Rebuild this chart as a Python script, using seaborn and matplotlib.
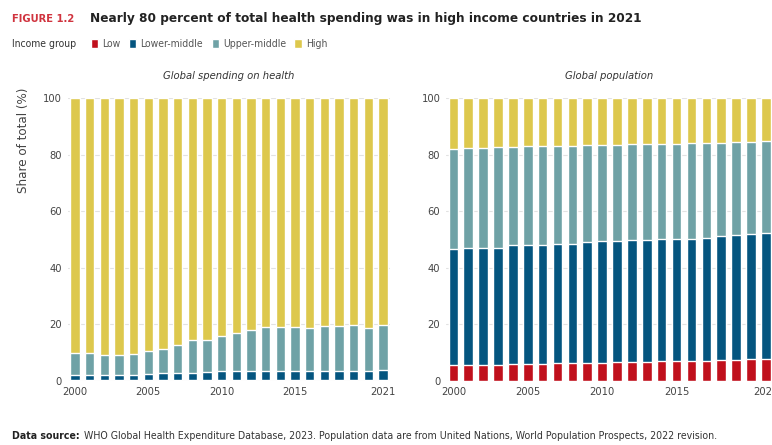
"""
Share of health spending and population by income group, 2000-2021
"""

import numpy as np
import pandas as pd
import matplotlib
matplotlib.use("Agg")
import matplotlib.pyplot as plt
import seaborn as sns
from matplotlib.patches import Patch
from matplotlib import font_manager

years = list(range(2000, 2022))
groups = ['Low', 'Lower-middle', 'Upper-middle', 'High']
colors = ['#C0101C', '#04557F', '#6FA2A6', '#DDC84D']

# Global spending on health, share of total (%)
spend_low = [0.3, 0.3, 0.3, 0.3, 0.3, 0.4, 0.4, 0.4, 0.4, 0.4, 0.5,
             0.5, 0.5, 0.5, 0.5, 0.5, 0.5, 0.5, 0.5, 0.5, 0.5, 0.5]
spend_lower_mid = [1.7, 1.7, 1.7, 1.7, 1.7, 2.2, 2.3, 2.4, 2.6, 2.7, 3.0,
                   3.1, 3.2, 3.2, 3.2, 3.2, 3.2, 3.2, 3.2, 3.2, 3.2, 3.3]
spend_upper_mid = [8.0, 7.9, 7.1, 7.1, 7.7, 7.9, 8.7, 9.8, 11.4, 11.5, 12.3,
                   13.5, 14.4, 15.4, 15.4, 15.4, 15.0, 15.6, 15.7, 16.2, 15.1, 16.1]

# Global population, share of total (%)
pop_low = [5.5, 5.6, 5.7, 5.8, 5.9, 6.0, 6.1, 6.2, 6.3, 6.4, 6.5,
           6.6, 6.7, 6.8, 6.9, 7.0, 7.1, 7.2, 7.4, 7.5, 7.7, 7.9]
pop_lower_mid = [41.3, 41.4, 41.4, 41.3, 42.0, 42.2, 42.1, 42.3, 42.2, 42.7, 42.9,
                 42.9, 43.0, 42.9, 43.2, 43.2, 43.2, 43.4, 43.8, 44.0, 44.1, 44.4]
pop_upper_mid = [35.3, 35.2, 35.3, 35.5, 34.9, 34.7, 34.8, 34.6, 34.7, 34.2, 34.0,
                 34.0, 34.0, 34.1, 33.7, 33.7, 33.7, 33.5, 33.0, 32.8, 32.7, 32.4]

sns.set_style('white')
# a narrow face if one is there, otherwise condensed DejaVu
names = {f.name for f in font_manager.fontManager.ttflist}
if 'Liberation Sans Narrow' in names:
	plt.rcParams['font.family'] = ['Liberation Sans Narrow', 'DejaVu Sans']
else:
	plt.rcParams['font.family'] = ['DejaVu Sans']
	plt.rcParams['font.stretch'] = 'condensed'


def make_frame(low, lower_mid, upper_mid):
	df = pd.DataFrame({'Year': years,
					   'Low': low,
					   'Lower-middle': lower_mid,
					   'Upper-middle': upper_mid})
	df['High'] = 100 - df[['Low', 'Lower-middle', 'Upper-middle']].sum(axis=1)
	return df


def stacked(ax, df, title, tick_years):
	# draw cumulative totals from the top layer down so each one covers the next
	cum = df[groups].cumsum(axis=1)
	for grp, col in reversed(list(zip(groups, colors))):
		sns.barplot(x=df['Year'].astype(str), y=cum[grp], color=col,
					width=0.64, ax=ax, saturation=1, zorder=2)
	ax.set_ylim(0, 100)
	ax.set_yticks(range(0, 101, 20))
	ax.grid(axis='y', color='#E2E2E2', linewidth=0.8, zorder=0)
	ax.set_axisbelow(True)
	ax.set_xticks([years.index(y) for y in tick_years])
	ax.set_xticklabels([str(y) for y in tick_years])
	ax.tick_params(length=0, labelsize=8, labelcolor='#444444', pad=4)
	ax.set_xlabel('')
	ax.set_ylabel('')
	ax.set_title(title, fontsize=8, style='italic', color='#333333', pad=14)
	sns.despine(ax=ax, left=True, bottom=True)


fig = plt.figure(figsize=(7.72, 4.45), dpi=100)

ax1 = fig.add_axes([0.0876, 0.1438, 0.418, 0.636])
ax2 = fig.add_axes([0.5776, 0.1438, 0.424, 0.636])

stacked(ax1, make_frame(spend_low, spend_lower_mid, spend_upper_mid),
		'Global spending on health', [2000, 2005, 2010, 2015, 2021])
stacked(ax2, make_frame(pop_low, pop_lower_mid, pop_upper_mid),
		'Global population', [2000, 2005, 2010, 2015, 2021])

ax1.set_ylabel('Share of total (%)', loc='top', fontsize=9.5, color='#444444')
ax1.yaxis.set_label_coords(-0.118, 1.035)

# titles
fig.text(0.016, 0.958, 'FIGURE 1.2', fontsize=8, fontweight='bold',
		 color='#D0343F', va='center')
fig.text(0.116, 0.958,
		 'Nearly 80 percent of total health spending was in high income countries in 2021',
		 fontsize=9.7, fontweight='bold', color='#222222', va='center')

# legend
fig.text(0.016, 0.901, 'Income group', fontsize=7.5, color='#333333', va='center')
handles = [Patch(facecolor=c, label=g) for g, c in zip(groups, colors)]
fig.legend(handles=handles, loc='center left', bbox_to_anchor=(0.118, 0.901),
		   ncol=4, frameon=False, fontsize=7.5, handlelength=0.7, handleheight=1.0,
		   handletextpad=0.4, columnspacing=0.8, labelcolor='#555555',
		   borderaxespad=0, borderpad=0)

# footer: bold lead-in, then the rest placed right after it
lead = fig.text(0.016, 0.02, 'Data source:', fontsize=7.6, fontweight='bold',
				color='#222222', va='center')
fig.canvas.draw()
bb = lead.get_window_extent().transformed(fig.transFigure.inverted())
fig.text(bb.x1 + 0.005, 0.02,
		 'WHO Global Health Expenditure Database, 2023. Population data are from '
		 'United Nations, World Population Prospects, 2022 revision.',
		 fontsize=7.6, color='#333333', va='center')

fig.savefig('out.png', dpi=100)
